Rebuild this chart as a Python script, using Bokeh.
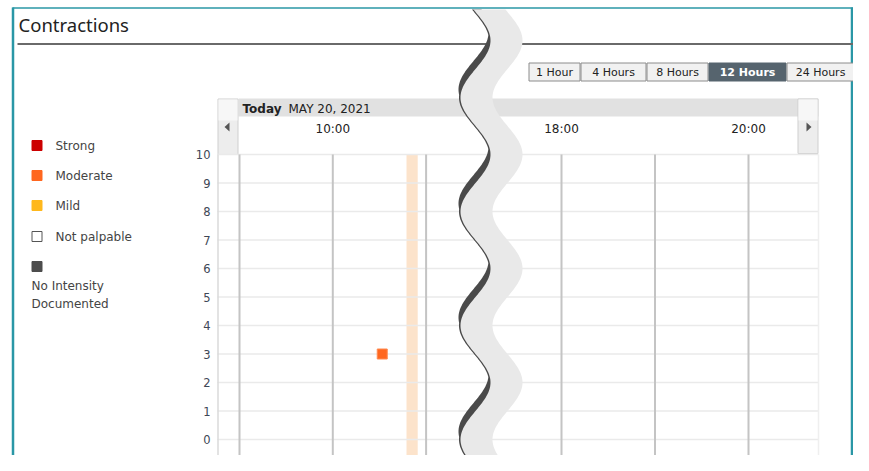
import numpy as np
from bokeh.plotting import figure
from bokeh.models import Range1d
from bokeh.core.properties import value
from bokeh.embed import file_html
from bokeh.resources import INLINE

# ---------------- data ----------------
title_text = "Contractions"
y_ticks = [0, 1, 2, 3, 4, 5, 6, 7, 8, 9, 10]
y_tick_labels = [str(v) for v in y_ticks]
grid_hours_left = [9, 10, 11]
grid_hours_right = [18, 19, 20]
x_tick_hours = [10, 18, 20]
x_tick_labels = ["10:00", "18:00", "20:00"]
day_word = "Today"
date_label = "MAY 20, 2021"
contraction_hours = [10.53]
contraction_intensity = [3]
band_start_hours = [10.79]
band_end_hours = [10.91]
legend_labels = ["Strong", "Moderate", "Mild", "Not palpable", "No Intensity\nDocumented"]
legend_fill = ["#CC0000", "#FF671F", "#FFB81C", "#FFFFFF", "#4D4D4D"]
legend_line = ["#CC0000", "#FF671F", "#FFB81C", "#555555", "#4D4D4D"]
range_buttons = ["1 Hour", "4 Hours", "8 Hours", "12 Hours", "24 Hours"]
selected_button = "12 Hours"

# ---------------- layout (pixel geometry) ----------------
W, H = 853, 455
X0, Y0 = 0, 0
FONT = value("DejaVu Sans")

# value axis: 10 at y=154, 0 at y=439
v_px = (439 - 154) / 10.0
val_lo = 0 - (Y0 + H - 439) / v_px
val_hi = 10 + (154 - Y0) / v_px
# left time segment: 10:00 at x=332.3
hl_px = 93.3
tl_lo = 10 - (332.3 - X0) / hl_px
tl_hi = 10 + (X0 + W - 332.3) / hl_px
# right time segment: 18:00 at x=561
hr_px = 93.5
tr_lo = 18 - (561 - X0) / hr_px
tr_hi = 18 + (X0 + W - 561) / hr_px

p = figure(width=W, height=H, output_backend="svg", toolbar_location=None,
           x_range=Range1d(X0, X0 + W), y_range=Range1d(Y0 + H, Y0),
           x_axis_location=None, y_axis_location=None, min_border=0,
           background_fill_color="white", border_fill_color="white",
           outline_line_color=None)
p.grid.visible = False
p.extra_y_ranges = {"val": Range1d(val_lo, val_hi)}
p.extra_x_ranges = {"tL": Range1d(tl_lo, tl_hi), "tR": Range1d(tr_lo, tr_hi)}

CH_L, CH_R, CH_T = 217, 818, 154

# ---------------- frame & title ----------------
p.line([12.5, 12.5], [7, 480], line_color="#2A97A6", line_width=2.5)
p.line([12, 862], [7.5, 7.5], line_color="#2A97A6", line_width=1.5)
p.line([851.5, 851.5], [7, 480], line_color="#2A97A6", line_width=2.5)
p.text(x=[18], y=[24], text=[title_text], text_font=value("Noto Sans"),
       text_font_size="18.5px", text_baseline="middle", text_color="#222222")
p.line([17, 860], [43.5, 43.5], line_color="#6A6A6A", line_width=2)

# ---------------- range buttons ----------------
btn_edges = [528, 580, 646, 708, 786, 854]
for i, lab in enumerate(range_buttons):
    sel = lab == selected_button
    p.quad(left=btn_edges[i] + 0.5, right=btn_edges[i + 1] - 0.5, top=62.5, bottom=80.5,
           fill_color="#56646E" if sel else "#F1F1F1",
           line_color="#56646E" if sel else "#8C8C8C", line_width=1)
    p.text(x=[(btn_edges[i] + btn_edges[i + 1]) / 2], y=[72], text=[lab],
           text_font=FONT, text_font_size="11px", text_align="center",
           text_baseline="middle", text_color="white" if sel else "#222222",
           text_font_style="bold" if sel else "normal")

# ---------------- legend ----------------
leg_y = [145, 175, 205, 236, 266]
for i, lab in enumerate(legend_labels):
    p.quad(left=31.5, right=41.5, top=leg_y[i] - 5, bottom=leg_y[i] + 5,
           fill_color=legend_fill[i], line_color=legend_line[i], line_width=1)
    if "\n" in lab:
        p.text(x=[31], y=[294.5], text=[lab], text_font=FONT, text_font_size="12px",
               text_baseline="middle", text_color="#444444", text_line_height=1.3)
    else:
        p.text(x=[55], y=[leg_y[i]], text=[lab], text_font=FONT, text_font_size="12px",
               text_baseline="middle", text_color="#444444")

# ---------------- header of time chart ----------------
p.quad(left=238, right=CH_R, top=98, bottom=116, fill_color="#E1E1E1", line_color=None)
for l, r, b in [(217, 238, 154), (797, 818, 153)]:
    p.quad(left=l + 0.5, right=r - 0.5, top=98.5, bottom=b, fill_color="#EDEDED",
           line_color="#CFCFCF", line_width=1)
    p.quad(left=l + 1, right=r - 1, top=99, bottom=120, fill_color="#F7F7F7", line_color=None)
p.patch([229, 229, 224], [122, 131, 126.5], fill_color="#555555", line_color=None)
p.patch([806, 806, 811], [122, 131, 126.5], fill_color="#555555", line_color=None)
p.text(x=[242], y=[108], text=[day_word], text_font=FONT, text_font_size="12px",
       text_font_style="bold", text_baseline="middle", text_color="#222222")
p.text(x=[288], y=[108], text=[date_label], text_font=FONT, text_font_size="12px",
       text_baseline="middle", text_color="#222222")

left_ticks = [(h, t) for h, t in zip(x_tick_hours, x_tick_labels) if h < 14]
right_ticks = [(h, t) for h, t in zip(x_tick_hours, x_tick_labels) if h >= 14]
for ticks, rn in [(left_ticks, "tL"), (right_ticks, "tR")]:
    p.text(x=[h for h, _ in ticks], y=[128] * len(ticks), text=[t for _, t in ticks],
           x_range_name=rn, text_font=FONT, text_font_size="12px",
           text_align="center", text_baseline="middle", text_color="#222222")

# ---------------- chart body ----------------
p.quad(left=band_start_hours, right=band_end_hours, top=[10] * len(band_start_hours),
       bottom=[-2] * len(band_start_hours), x_range_name="tL", y_range_name="val",
       fill_color="#FCE3CB", line_color=None)
p.segment(x0=[CH_L] * len(y_ticks), x1=[CH_R] * len(y_ticks), y0=y_ticks, y1=y_ticks,
          y_range_name="val", line_color="#EAEAEA", line_width=1.5)
for hrs, rn in [(grid_hours_left, "tL"), (grid_hours_right, "tR")]:
    p.segment(x0=hrs, x1=hrs, y0=[10] * len(hrs), y1=[-2] * len(hrs),
              x_range_name=rn, y_range_name="val", line_color="#C4C4C4", line_width=2)
p.line([CH_L + 0.5, CH_L + 0.5], [CH_T, 480], line_color="#DADADA", line_width=1.5)
p.line([CH_R, CH_R], [CH_T, 480], line_color="#EFEFEF", line_width=1.5)
p.text(x=[210] * len(y_ticks), y=y_ticks, text=y_tick_labels, y_range_name="val",
       text_font=FONT, text_font_size="11.5px", text_align="right",
       text_baseline="middle", text_color="#3E4756")
p.scatter(x=contraction_hours, y=contraction_intensity, x_range_name="tL",
          y_range_name="val", marker="square", size=10, fill_color="#FF671F",
          line_color="#FF8A50", line_width=1)

# ---------------- torn-edge break ----------------
ys = np.linspace(9, 480, 600)
def c(y):
    return 475 + 15 * np.cos(2 * np.pi * (y - 40) / 114)
dark_left = np.minimum(c(ys + 8) - 2, c(ys) - 1.5)
p.patch(np.concatenate([dark_left, (c(ys) + 8)[::-1]]), np.concatenate([ys, ys[::-1]]),
        fill_color="#4A4A4A", line_color=None)
p.patch(np.concatenate([c(ys), (c(ys) + 32)[::-1]]), np.concatenate([ys, ys[::-1]]),
        fill_color="#E9E9E9", line_color=None)

open("out.html", "w").write(file_html(p, INLINE))
